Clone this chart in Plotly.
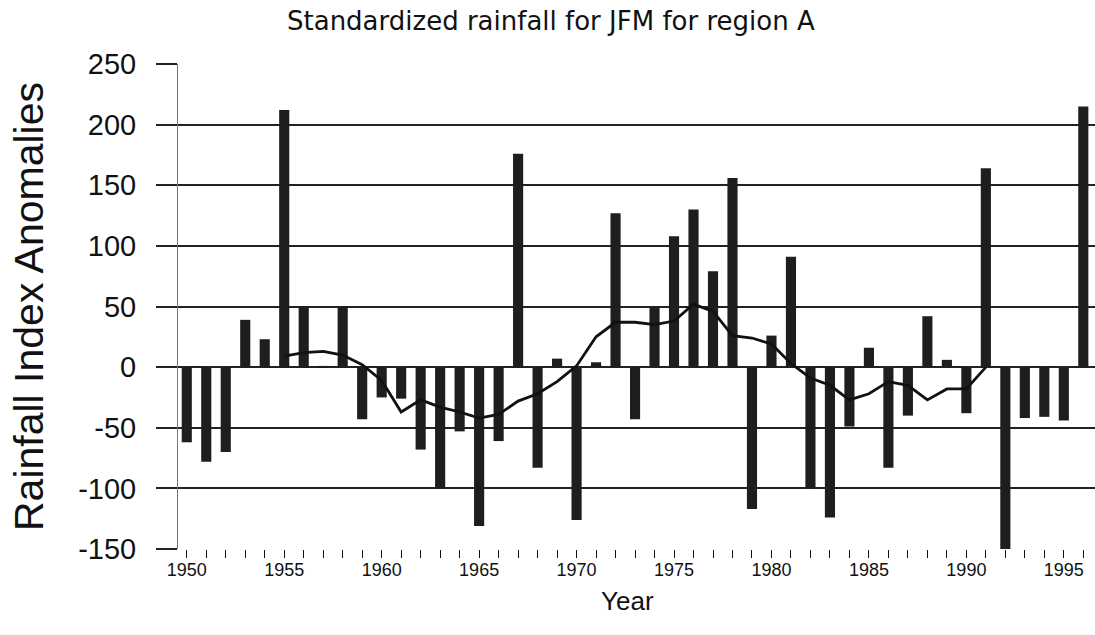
import plotly.graph_objects as go

years = [1950, 1951, 1952, 1953, 1954, 1955, 1956, 1957, 1958, 1959,
         1960, 1961, 1962, 1963, 1964, 1965, 1966, 1967, 1968, 1969,
         1970, 1971, 1972, 1973, 1974, 1975, 1976, 1977, 1978, 1979,
         1980, 1981, 1982, 1983, 1984, 1985, 1986, 1987, 1988, 1989,
         1990, 1991, 1992, 1993, 1994, 1995, 1996]
anomalies = [-62, -78, -70, 39, 23, 212, 50, 1, 50, -43,
             -25, -26, -68, -100, -53, -131, -61, 176, -83, 7,
             -126, 4, 127, -43, 49, 108, 130, 79, 156, -117,
             26, 91, -100, -124, -49, 16, -83, -40, 42, 6,
             -38, 164, -155, -42, -41, -44, 215]

smooth_years = [1955, 1956, 1957, 1958, 1959, 1960, 1961, 1962, 1963, 1964,
                1965, 1966, 1967, 1968, 1969, 1970, 1971, 1972, 1973, 1974,
                1975, 1976, 1977, 1978, 1979, 1980, 1981, 1982, 1983, 1984,
                1985, 1986, 1987, 1988, 1989, 1990, 1991]
smooth_vals = [9, 12, 13, 10, 2, -11, -37, -27, -33, -37,
               -42, -39, -28, -22, -12, 1, 25, 37, 37, 35,
               38, 52, 46, 26, 24, 19, 3, -9, -15, -27,
               -22, -12, -15, -27, -18, -18, 0]

y_ticks = [-150, -100, -50, 0, 50, 100, 150, 200, 250]
x_label_years = [1950, 1955, 1960, 1965, 1970, 1975, 1980, 1985, 1990, 1995]

title_text = "Standardized rainfall for JFM for region A"
y_title = "Rainfall Index Anomalies"
x_title = "Year"

FONT = "Liberation Sans, Arial, sans-serif"

fig = go.Figure()
fig.add_trace(go.Bar(
    x=years, y=anomalies, width=0.52,
    marker=dict(color="#1e1e1e", line=dict(width=0)),
    hoverinfo="x+y",
))
fig.add_trace(go.Scatter(
    x=smooth_years, y=smooth_vals, mode="lines",
    line=dict(color="#111111", width=2.8),
    hoverinfo="x+y",
))

fig.update_layout(
    width=1095, height=635,
    margin=dict(l=178, r=0, t=64, b=86, pad=0),
    paper_bgcolor="white", plot_bgcolor="white",
    showlegend=False,
    font=dict(family=FONT, color="#111111"),
)

# annotations positioned in pixel-equivalent paper coordinates
W0, W = 178, 917
H0, H = 549, 485
def px(xp):
    return (xp - W0) / W
def py(yp):
    return (H0 - yp) / H

fig.add_annotation(text=title_text, x=px(551), y=py(21), xref="paper", yref="paper",
                   showarrow=False, xanchor="center", yanchor="middle",
                   font=dict(family="DejaVu Sans, sans-serif", size=26, color="#111111"))
fig.add_annotation(text=x_title, x=px(627), y=py(601), xref="paper", yref="paper",
                   showarrow=False, xanchor="center", yanchor="middle",
                   font=dict(family=FONT, size=26, color="#111111"))
fig.add_annotation(text=y_title, x=px(29), y=py(307), xref="paper", yref="paper",
                   showarrow=False, xanchor="center", yanchor="middle", textangle=-90,
                   font=dict(family=FONT, size=41, color="#111111"))

fig.update_xaxes(
    range=[1949.55, 1996.6],
    tickmode="array", tickvals=x_label_years,
    ticktext=[str(v) for v in x_label_years],
    ticks="outside", ticklen=8, tickwidth=1.3, tickcolor="#111111",
    minor=dict(tickmode="linear", tick0=1950, dtick=1, ticks="outside",
               ticklen=8, tickwidth=1.3, tickcolor="#111111", showgrid=False),
    showgrid=False, zeroline=False, showline=False,
    tickfont=dict(family=FONT, size=18, color="#111111"),
    ticklabelstandoff=-4,
    fixedrange=True,
)
fig.update_yaxes(
    range=[-150, 250],
    tickmode="array", tickvals=y_ticks,
    ticktext=[str(v) for v in y_ticks],
    ticks="outside", ticklen=21, tickwidth=1.8, tickcolor="#222222",
    showgrid=True, gridcolor="#222222", gridwidth=1.8,
    zeroline=False,
    showline=True, linecolor="#777777", linewidth=1,
    tickfont=dict(family=FONT, size=29, color="#111111"),
    ticklabelstandoff=14,
    fixedrange=True,
)

fig.write_html("out.html")
